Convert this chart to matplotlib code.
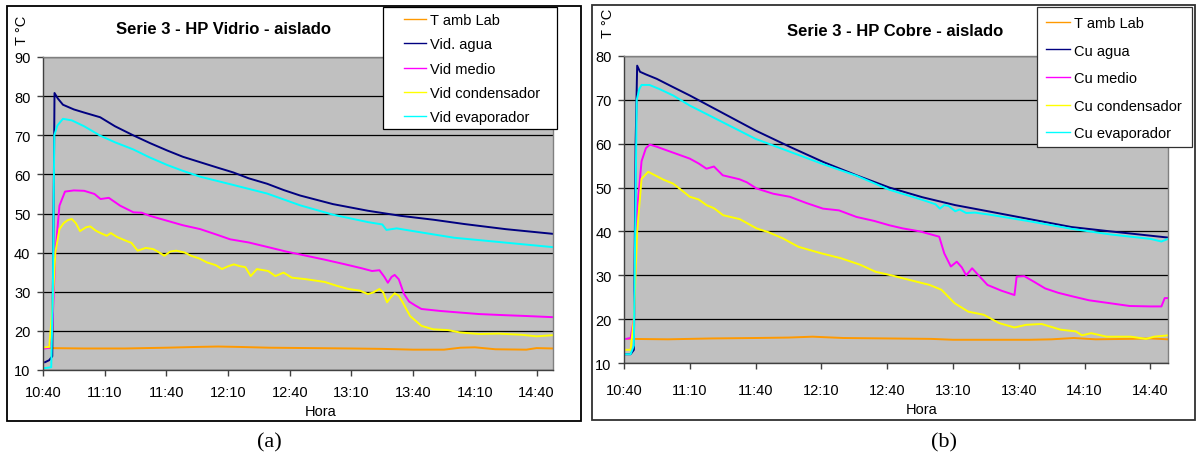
import matplotlib
matplotlib.use("Agg")
import matplotlib.pyplot as plt
from matplotlib.patches import Rectangle
import numpy as np

plt.rcParams['font.family'] = ['Liberation Sans', 'DejaVu Sans']

# ---------------- data (time in minutes after 10:40) ----------------
tick_labels = ['10:40', '11:10', '11:40', '12:10', '12:40', '13:10', '13:40', '14:10', '14:40']
tick_minutes = [0, 30, 60, 90, 120, 150, 180, 210, 240]

# Panel (a) - Vidrio
vid_amb_t = [3, 20, 40, 60, 75, 85, 95, 110, 130, 150, 165, 180, 195, 203, 210, 220, 235, 240, 248]
vid_amb = [15.6, 15.5, 15.5, 15.7, 15.9, 16.0, 15.9, 15.7, 15.6, 15.5, 15.4, 15.2, 15.2, 15.7, 15.8, 15.3, 15.2, 15.6, 15.5]

vid_agua_t = [1, 3, 4.5, 5.3, 5.6, 7.2, 9.7, 15, 20, 27.8, 35, 43.8, 52, 60.4, 68, 76.5, 85, 92.5, 100, 109, 117, 125, 133, 141, 150, 158, 174, 190, 205, 225, 248]
vid_agua = [12.0, 12.5, 13.5, 60.0, 80.8, 79.4, 77.8, 76.6, 75.8, 74.6, 72.3, 70.0, 68.0, 66.1, 64.5, 63.1, 61.7, 60.5, 59.0, 57.6, 56.0, 54.6, 53.5, 52.4, 51.5, 50.7, 49.4, 48.4, 47.3, 46.0, 44.8]

vid_medio_t = [1, 3, 4.5, 6, 8, 10.7, 15, 20, 25, 28, 32, 37.5, 44, 48, 52, 60, 68, 76.5, 85, 91, 100, 109.5, 118, 128, 137, 147, 155, 160, 163.6, 166, 167.7, 169.5, 171, 173, 175.5, 178, 181, 184, 193, 200, 212, 225, 235, 248]
vid_medio = [15.5, 15.7, 20.0, 40.0, 52.0, 55.6, 55.9, 55.8, 55.0, 53.7, 54.0, 52.0, 50.3, 50.2, 49.4, 48.2, 47.0, 46.0, 44.5, 43.4, 42.6, 41.4, 40.3, 39.2, 38.2, 37.0, 36.0, 35.3, 35.5, 33.8, 32.3, 33.8, 34.3, 33.2, 29.5, 27.5, 26.5, 25.6, 25.1, 24.8, 24.3, 24.0, 23.8, 23.5]

vid_cond_t = [1, 3, 4.5, 6, 8, 10, 12, 14, 16, 18, 21, 23, 25.7, 28, 31, 33, 36, 40.5, 43, 46, 50, 53.6, 56, 59, 62, 64.8, 69, 72, 76, 79.7, 84, 87, 90, 92.8, 96, 98.4, 101, 104, 109.5, 113, 117, 121, 128, 137, 143, 148.6, 154, 158, 160.5, 163.6, 165.5, 167.3, 169, 171, 173, 174.8, 178.5, 184, 189.7, 197, 202.7, 212, 221.6, 232.8, 240, 248]
vid_cond = [15.8, 15.9, 25.0, 40.0, 46.0, 47.5, 48.3, 48.6, 47.5, 45.5, 46.5, 46.7, 45.6, 45.0, 44.3, 45.0, 44.0, 43.0, 42.5, 40.5, 41.2, 40.9, 40.2, 39.2, 40.3, 40.5, 40.0, 39.2, 38.5, 37.5, 36.8, 35.8, 36.5, 37.0, 36.5, 36.3, 34.0, 35.8, 35.3, 34.0, 34.9, 33.6, 33.2, 32.5, 31.5, 30.7, 30.3, 29.4, 29.8, 30.7, 29.8, 27.3, 28.5, 29.6, 29.0, 27.4, 23.8, 21.3, 20.4, 20.2, 19.6, 19.2, 19.3, 19.0, 18.6, 18.9]

vid_evap_t = [1, 4, 4.8, 5.5, 7, 9.7, 14, 20, 27.8, 35, 43.8, 52, 60.4, 68, 76.5, 92.5, 109, 125, 141, 158, 165, 167, 172, 180, 200, 220, 248]
vid_evap = [10.5, 10.7, 30.0, 70.0, 72.5, 74.2, 73.8, 72.3, 69.9, 68.2, 66.4, 64.3, 62.4, 60.9, 59.4, 57.3, 55.1, 52.1, 49.7, 47.8, 47.2, 45.8, 46.2, 45.5, 43.8, 42.8, 41.4]

# Panel (b) - Cobre
cu_amb_t = [2, 20, 40, 60, 75, 86, 100, 120, 140, 150, 170, 185, 195, 205, 215, 230, 240, 248]
cu_amb = [15.5, 15.4, 15.6, 15.7, 15.8, 16.0, 15.7, 15.6, 15.5, 15.3, 15.3, 15.3, 15.4, 15.7, 15.4, 15.5, 15.6, 15.4]

cu_agua_t = [0, 3, 4.5, 5.3, 6, 7.3, 10, 14.9, 22, 30, 45, 60, 76, 91, 106, 121, 136, 151, 167, 185, 204, 222, 235, 248]
cu_agua = [12.0, 12.0, 13.0, 60.0, 77.8, 76.4, 75.8, 74.8, 73.0, 71.0, 67.0, 63.0, 59.2, 55.8, 52.8, 50.0, 47.8, 46.0, 44.5, 42.8, 41.0, 40.0, 39.3, 38.6]

cu_medio_t = [1, 3, 4.5, 6, 8, 10, 11.8, 15, 19.4, 25, 30, 34, 37.6, 41, 45, 52.6, 56, 60.4, 68, 75.6, 83, 90.7, 98, 106, 114, 121, 127, 135, 143.7, 146, 149, 151.7, 154, 156, 158.7, 162, 165.7, 172, 178, 179, 182.5, 187, 192, 198, 204.4, 212, 222, 230.5, 240, 245, 246.5, 248]
cu_medio = [15.5, 15.7, 20.0, 45.0, 56.0, 59.0, 59.8, 59.3, 58.5, 57.5, 56.6, 55.5, 54.3, 54.8, 52.8, 51.9, 51.2, 49.8, 48.6, 47.9, 46.5, 45.2, 44.8, 43.3, 42.4, 41.4, 40.7, 40.0, 38.8, 35.0, 32.0, 33.1, 31.8, 30.0, 31.6, 29.8, 27.8, 26.5, 25.5, 29.7, 29.8, 28.5, 27.0, 26.0, 25.2, 24.3, 23.6, 23.0, 22.9, 22.9, 24.8, 24.8]

cu_cond_t = [1, 3, 4.5, 6, 8, 11, 14.9, 18, 22.4, 26, 30, 34, 37.6, 41, 45.2, 52.8, 60.4, 66, 72.5, 79.5, 90, 98.8, 107.7, 114.7, 121.8, 130.5, 139.3, 144.7, 150.8, 157, 164, 171, 178, 183.3, 190.4, 199, 206, 208.8, 213, 220, 231, 238, 241.7, 248]
cu_cond = [13.0, 13.0, 20.0, 40.0, 52.0, 53.6, 52.6, 51.8, 50.9, 49.5, 47.9, 47.3, 46.0, 45.3, 43.7, 42.8, 40.7, 39.8, 38.4, 36.5, 35.0, 33.9, 32.4, 30.8, 30.0, 28.9, 27.8, 26.7, 23.6, 21.7, 21.0, 19.1, 18.1, 18.7, 18.9, 17.6, 17.2, 16.3, 16.8, 16.0, 16.0, 15.5, 16.0, 16.3]

cu_evap_t = [0, 3, 4.5, 5.8, 7, 8, 11.6, 16, 22.4, 30, 45, 60, 76, 91, 106, 121, 136, 142, 144, 146, 148, 151, 153, 156, 160, 167, 185, 204, 222, 240, 245, 248]
cu_evap = [12.0, 12.0, 14.0, 70.0, 72.5, 73.4, 73.4, 72.5, 71.0, 68.7, 64.9, 61.1, 58.1, 55.3, 52.7, 49.5, 47.2, 46.2, 45.2, 46.0, 45.8, 44.6, 45.0, 44.2, 44.3, 43.8, 42.3, 40.6, 39.3, 38.3, 37.7, 38.3]

labels_a = ['T amb Lab', 'Vid. agua', 'Vid medio', 'Vid condensador', 'Vid evaporador']
labels_b = ['T amb Lab', 'Cu agua', 'Cu medio', 'Cu condensador', 'Cu evaporador']
colors = ['#FF9900', '#000080', '#FF00FF', '#FFFF00', '#00FFFF']

series_a = [(vid_amb_t, vid_amb), (vid_agua_t, vid_agua), (vid_medio_t, vid_medio),
            (vid_cond_t, vid_cond), (vid_evap_t, vid_evap)]
series_b = [(cu_amb_t, cu_amb), (cu_agua_t, cu_agua), (cu_medio_t, cu_medio),
            (cu_cond_t, cu_cond), (cu_evap_t, cu_evap)]

# ---------------- figure ----------------
W, H = 1196, 456
fig = plt.figure(figsize=(W / 100, H / 100), dpi=100)


def fx(px):
    return px / W


def fy(py):
    return 1 - py / H


def make_axes(l, t, r, b, ylim, xpad):
    ax = fig.add_axes([fx(l), fy(b), (r - l) / W, (b - t) / H])
    ax.set_facecolor('#C0C0C0')
    ax.set_xlim(0, 248)
    ax.set_ylim(*ylim)
    ax.set_yticks(np.arange(ylim[0], ylim[1] + 1, 10))
    ax.set_xticks(tick_minutes)
    ax.set_xticklabels(tick_labels)
    ax.grid(axis='y', color='black', lw=0.9)
    ax.set_axisbelow(True)
    for s in ['left', 'bottom']:
        ax.spines[s].set_color('#404040')
        ax.spines[s].set_linewidth(1.0)
    for s in ['top', 'right']:
        ax.spines[s].set_color('#808080')
        ax.spines[s].set_linewidth(1.0)
    ax.tick_params(direction='out', length=4, width=1, color='#404040', labelsize=10.5)
    ax.tick_params(axis='x', pad=xpad)
    ax.tick_params(axis='y', pad=5)
    return ax


ax1 = make_axes(43, 58, 553, 371, (10, 90), 7)
ax2 = make_axes(624, 57, 1168, 364, (10, 80), 10.5)

lines_a = []
for (t, v), c, lab in zip(series_a, colors, labels_a):
    ln, = ax1.plot(t, v, color=c, lw=1.4, label=lab)
    lines_a.append(ln)
lines_b = []
for (t, v), c, lab in zip(series_b, colors, labels_b):
    ln, = ax2.plot(t, v, color=c, lw=1.4, label=lab)
    lines_b.append(ln)

# chart frames
fig.add_artist(Rectangle((fx(7), fy(422)), (581 - 7) / W, (422 - 7) / H,
                         transform=fig.transFigure, fill=False, ec='black', lw=1.3, zorder=2))
fig.add_artist(Rectangle((fx(592), fy(421)), (1195 - 592) / W, (421 - 6) / H,
                         transform=fig.transFigure, fill=False, ec='#303030', lw=1.3, zorder=2))

# legend boxes
fig.add_artist(Rectangle((fx(383), fy(130)), (557 - 383) / W, (130 - 8) / H,
                         transform=fig.transFigure, fc='white', ec='black', lw=0.9, zorder=4))
fig.add_artist(Rectangle((fx(1037), fy(148)), (1192 - 1037) / W, (148 - 8) / H,
                         transform=fig.transFigure, fc='white', ec='#303030', lw=0.9, zorder=4))

fs = 10.5
leg1 = fig.legend(handles=lines_a, labels=labels_a, loc='upper left',
                  bbox_to_anchor=(fx(404), fy(14)), frameon=False, borderpad=0,
                  borderaxespad=0, handlelength=1.5, handletextpad=0.3,
                  labelspacing=0.71, fontsize=fs)
leg1.set_zorder(5)
for l in leg1.get_lines():
    l.set_linewidth(1.0)
leg2 = fig.legend(handles=lines_b, labels=labels_b, loc='upper left',
                  bbox_to_anchor=(fx(1046), fy(17)), frameon=False, borderpad=0,
                  borderaxespad=0, handlelength=1.65, handletextpad=0.3,
                  labelspacing=0.93, fontsize=fs)
leg2.set_zorder(5)
for l in leg2.get_lines():
    l.set_linewidth(1.0)

# titles and labels
fig.text(fx(224), fy(30), 'Serie 3 - HP Vidrio - aislado', ha='center', va='center',
         fontsize=12, weight='bold')
fig.text(fx(895), fy(32), 'Serie 3 - HP Cobre - aislado', ha='center', va='center',
         fontsize=12, weight='bold')
fig.text(fx(22), fy(30), 'T °C', rotation=90, ha='center', va='center', fontsize=10.5)
fig.text(fx(608), fy(23), 'T °C', rotation=90, ha='center', va='center', fontsize=10.5)
fig.text(fx(321), fy(412), 'Hora', ha='center', va='center', fontsize=10.5)
fig.text(fx(922), fy(410), 'Hora', ha='center', va='center', fontsize=10.5)
fig.text(fx(269), fy(443), '(a)', ha='center', va='center', fontsize=16,
         family=['Liberation Serif', 'DejaVu Serif'])
fig.text(fx(944), fy(443), '(b)', ha='center', va='center', fontsize=16,
         family=['Liberation Serif', 'DejaVu Serif'])

fig.savefig('out.png', dpi=100)
